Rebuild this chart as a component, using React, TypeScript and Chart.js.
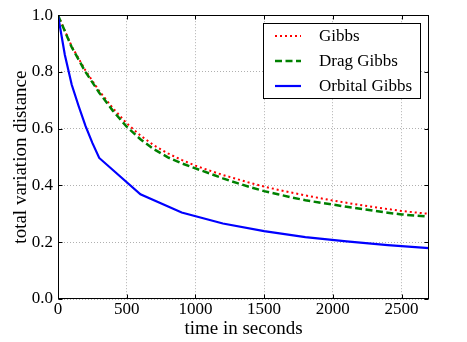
import React, { useEffect, useRef } from 'react';
import { Chart, registerables } from 'chart.js';
Chart.register(...registerables);

const FONT = '"Liberation Serif", "Times New Roman", serif';

// Gibbs and Drag Gibbs sampled every 100 s
const gibbsTime = [0, 100, 200, 300, 400, 500, 600, 700, 800, 900, 1000, 1100, 1200, 1300, 1400, 1500, 1600, 1700, 1800, 1900, 2000, 2100, 2200, 2300, 2400, 2500, 2600, 2700];
const gibbsTV = [1.0, 0.89, 0.805, 0.733, 0.672, 0.619, 0.576, 0.541, 0.513, 0.49, 0.47, 0.453, 0.437, 0.423, 0.409, 0.396, 0.385, 0.375, 0.365, 0.356, 0.347, 0.339, 0.331, 0.324, 0.317, 0.31, 0.305, 0.3];
const dragTV = [1.0, 0.887, 0.8, 0.727, 0.663, 0.607, 0.563, 0.527, 0.499, 0.478, 0.46, 0.443, 0.425, 0.409, 0.394, 0.38, 0.369, 0.358, 0.348, 0.34, 0.333, 0.325, 0.318, 0.311, 0.304, 0.298, 0.294, 0.29];

// Orbital Gibbs
const orbitalTime = [0, 50, 100, 150, 200, 250, 300, 600, 900, 1200, 1500, 1800, 2100, 2400, 2700];
const orbitalTV = [1.0, 0.86, 0.755, 0.68, 0.61, 0.55, 0.497, 0.369, 0.305, 0.266, 0.239, 0.218, 0.203, 0.19, 0.179];

const seriesLabels = ['Gibbs', 'Drag Gibbs', 'Orbital Gibbs'];
const xTickValues = [0, 500, 1000, 1500, 2000, 2500];
const yTickValues = [0, 0.2, 0.4, 0.6, 0.8, 1.0];
const xTitle = 'time in seconds';
const yTitle = 'total variation distance';

const toPts = (xs: number[], ys: number[]) => xs.map((x, i) => ({ x, y: ys[i] }));

export default function App() {
  const ref = useRef<HTMLCanvasElement>(null);

  useEffect(() => {
    if (!ref.current) return;

    const framePlugin = {
      id: 'frame',
      afterDatasetsDraw(chart: any) {
        const { ctx, chartArea: a, scales } = chart;
        const L = Math.round(a.left) + 0.5;
        const R = Math.round(a.right) - 0.5;
        const T = Math.round(a.top) + 0.5;
        const B = Math.round(a.bottom) - 0.5;
        ctx.save();
        ctx.strokeStyle = '#000';
        ctx.lineWidth = 1;
        ctx.setLineDash([]);
        ctx.beginPath();
        scales.x.ticks.forEach((t: any) => {
          const px = Math.round(scales.x.getPixelForValue(t.value)) + 0.5;
          ctx.moveTo(px, B); ctx.lineTo(px, B - 4);
          ctx.moveTo(px, T); ctx.lineTo(px, T + 4);
        });
        scales.y.ticks.forEach((t: any) => {
          const py = Math.round(scales.y.getPixelForValue(t.value)) + 0.5;
          ctx.moveTo(L, py); ctx.lineTo(L + 4, py);
          ctx.moveTo(R, py); ctx.lineTo(R - 4, py);
        });
        ctx.stroke();
        ctx.strokeRect(L, T, R - L, B - T);
        ctx.restore();
      },
      afterDraw(chart: any) {
        const { ctx } = chart;
        const bx = 263.5, by = 23.5, bw = 157, bh = 75;
        ctx.save();
        ctx.fillStyle = '#fff';
        ctx.fillRect(bx, by, bw, bh);
        ctx.strokeStyle = '#000';
        ctx.lineWidth = 1;
        ctx.setLineDash([]);
        ctx.strokeRect(bx, by, bw, bh);
        chart.data.datasets.forEach((ds: any, i: number) => {
          const y = 36 + i * 25;
          ctx.beginPath();
          ctx.strokeStyle = ds.borderColor;
          ctx.lineWidth = ds.borderWidth;
          ctx.setLineDash(ds.borderDash || []);
          ctx.moveTo(275, y);
          ctx.lineTo(301, y);
          ctx.stroke();
          ctx.setLineDash([]);
          ctx.fillStyle = '#000';
          ctx.font = `17px ${FONT}`;
          ctx.textBaseline = 'middle';
          ctx.textAlign = 'left';
          ctx.fillText(ds.label, 319, y + 0.5);
        });
        ctx.restore();
      },
    };

    const chart = new Chart(ref.current, {
      type: 'line',
      data: {
        datasets: [
          {
            label: seriesLabels[0],
            data: toPts(gibbsTime, gibbsTV),
            borderColor: '#ff0000',
            borderWidth: 2,
            borderDash: [2, 3],
            order: 3,
          },
          {
            label: seriesLabels[1],
            data: toPts(gibbsTime, dragTV),
            borderColor: '#008000',
            borderWidth: 2.5,
            borderDash: [7, 3.5],
            order: 2,
          },
          {
            label: seriesLabels[2],
            data: toPts(orbitalTime, orbitalTV),
            borderColor: '#0000ff',
            borderWidth: 2.2,
            order: 1,
          },
        ],
      },
      options: {
        animation: false,
        responsive: false,
        layout: { padding: { top: 15, right: 38, left: 0, bottom: 0 } },
        plugins: { legend: { display: false }, tooltip: { enabled: false } },
        elements: { point: { radius: 0 }, line: { tension: 0, fill: false } },
        scales: {
          x: {
            type: 'linear',
            min: 0,
            max: 2700,
            afterBuildTicks(s: any) { s.ticks = xTickValues.map((v) => ({ value: v })); },
            ticks: {
              padding: 0,
              maxRotation: 0,
              autoSkip: false,
              color: '#000',
              font: { family: FONT, size: 17 },
              callback: (v: any) => String(v),
            },
            grid: { color: '#b0b0b0', lineWidth: 1, drawTicks: false },
            border: { display: false, dash: [1, 2] },
            title: {
              display: true,
              text: xTitle,
              color: '#000',
              font: { family: FONT, size: 19 },
              padding: { top: 0, bottom: 2 },
            },
            afterFit(s: any) { s.height = 43; },
          },
          y: {
            type: 'linear',
            min: 0,
            max: 1,
            afterBuildTicks(s: any) { s.ticks = yTickValues.map((v) => ({ value: v })); },
            ticks: {
              padding: 5,
              autoSkip: false,
              color: '#000',
              font: { family: FONT, size: 17 },
              callback: (v: any) => Number(v).toFixed(1),
            },
            grid: { color: '#b0b0b0', lineWidth: 1, drawTicks: false },
            border: { display: false, dash: [1, 2] },
            title: {
              display: true,
              text: yTitle,
              color: '#000',
              font: { family: FONT, size: 19 },
              padding: { top: 9.5, bottom: 0 },
            },
            afterFit(s: any) { s.width = 58; },
          },
        },
      },
      plugins: [framePlugin],
    } as any);

    return () => chart.destroy();
  }, []);

  return (
    <div style={{ position: 'fixed', left: 0, top: 0, width: 467, height: 342, background: '#fff' }}>
      <canvas ref={ref} width={467} height={342} style={{ display: 'block' }} />
    </div>
  );
}
